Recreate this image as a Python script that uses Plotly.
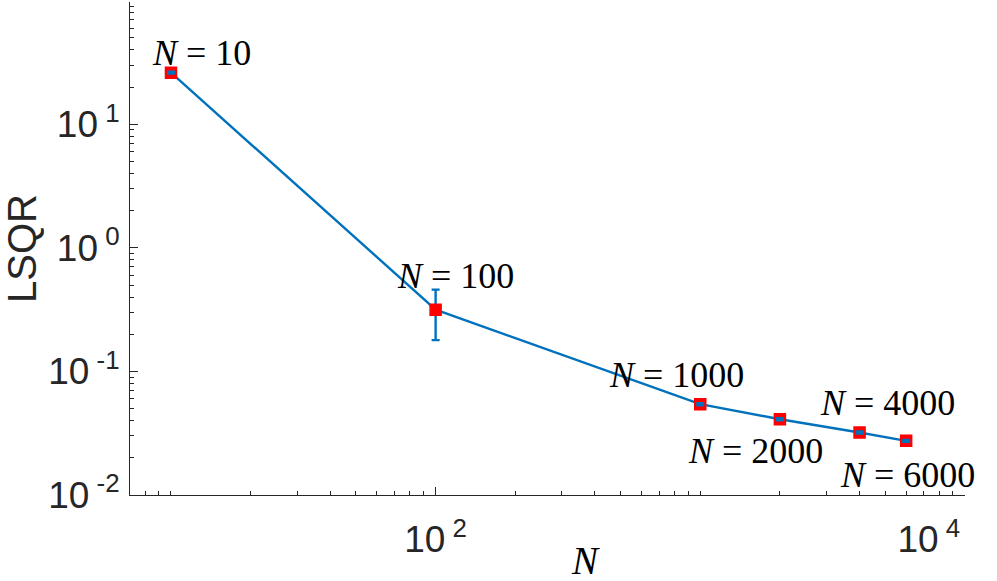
"""LSQR error against sample count N, log-log, MATLAB-style figure."""

import numpy as np
import plotly.graph_objects as go

COLORS = {
    "line": "#0072BD",
    "marker": "#FF0000",
    "axis": "#262626",
    "text": "#000000",
}

# data
n_values = [10, 100, 1000, 2000, 4000, 6000]
lsqr = [26.2, 0.316, 0.0543, 0.0410, 0.0320, 0.0274]
err_plus = [0.5, 0.143, 0.0011, 0.0008, 0.0006, 0.0005]
err_minus = [0.5, 0.137, 0.0011, 0.0008, 0.0006, 0.0005]
point_labels = ["N=10", "N=100", "N=1000", "N=2000", "N=4000", "N=6000"]

y_tickvals = [0.01, 0.1, 1, 10]
y_ticktext = ["10<sup>&nbsp;-2</sup>", "10<sup>&nbsp;-1</sup>", "10<sup>&nbsp;0</sup>", "10<sup>&nbsp;1</sup>"]
x_tickvals = [100, 10000]
# MATLAB pulls the last label inside the figure; pad it so it sits left of its tick
x_ticktext = ["10<sup>&nbsp;2</sup>", "10<sup>&nbsp;4</sup>" + "&nbsp;" * 7]

# label offsets in pixels from each point (left edge, vertical middle)
label_shift = [(-21, 20), (-41, 34), (-93, 29), (-94, -32), (-42, 30), (-68, -34)]

SANS = "Liberation Sans, Arial, sans-serif"
SERIF = "Liberation Serif, Times New Roman, serif"

fig = go.Figure()

# line, markers and the big error bar (drawn under the markers)
fig.add_trace(
    go.Scatter(
        x=n_values,
        y=lsqr,
        mode="lines+markers",
        line=dict(color=COLORS["line"], width=2.4),
        marker=dict(symbol="square", size=11, color=COLORS["marker"],
                    line=dict(color=COLORS["marker"], width=1.5)),
        error_y=dict(type="data", symmetric=False, array=err_plus, arrayminus=err_minus,
                     color=COLORS["line"], thickness=2.4, width=4),
        hoverinfo="skip",
    )
)

# tiny error bars sit on top of the red squares
small = [i for i, y in enumerate(lsqr) if (err_plus[i] + err_minus[i]) / y < 0.1]
fig.add_trace(
    go.Scatter(
        x=[n_values[i] for i in small],
        y=[lsqr[i] for i in small],
        mode="markers",
        marker=dict(size=1, opacity=0),
        error_y=dict(type="data", symmetric=False,
                     array=[err_plus[i] for i in small],
                     arrayminus=[err_minus[i] for i in small],
                     color=COLORS["line"], thickness=2.4, width=4),
        hoverinfo="skip",
    )
)

for n, y, lab, (dx, dy) in zip(n_values, lsqr, point_labels, label_shift):
    num = lab.split("=")[1]
    fig.add_annotation(
        x=np.log10(n), y=np.log10(y), xref="x", yref="y",
        text=f"<i>N</i> = {num}", showarrow=False,
        xanchor="left", yanchor="middle", xshift=dx, yshift=dy,
        font=dict(family=SERIF, size=36, color=COLORS["text"]),
    )

fig.add_annotation(
    x=0.545, y=-0.132, xref="paper", yref="paper",
    text="<i>N</i>", showarrow=False, xanchor="center", yanchor="middle",
    font=dict(family=SERIF, size=39, color=COLORS["text"]),
)

axis_common = dict(
    showline=True, linecolor=COLORS["axis"], linewidth=1,
    ticks="inside", ticklen=8, tickcolor=COLORS["axis"], tickwidth=1,
    showgrid=False, zeroline=False, mirror=False, automargin=False,
    ticklabeloverflow="allow",
    tickfont=dict(family=SANS, size=37, color=COLORS["axis"]),
    minor=dict(ticks="inside", ticklen=4, tickcolor=COLORS["axis"], dtick="D1", showgrid=False),
)

fig.update_xaxes(
    type="log", range=[np.log10(7), 4.0005],
    tickmode="array", tickvals=x_tickvals, ticktext=x_ticktext,
    ticklabelstandoff=12,
    **axis_common,
)
fig.update_yaxes(
    type="log", range=[-2.0005, 1.99],
    tickmode="array", tickvals=y_tickvals, ticktext=y_ticktext,
    ticklabelstandoff=2,
    title=dict(text="LSQR", font=dict(family=SANS, size=40, color=COLORS["axis"]), standoff=39),
    **axis_common,
)

fig.update_layout(
    width=997, height=581,
    margin=dict(l=130, r=32, t=2, b=86),
    paper_bgcolor="white", plot_bgcolor="white",
    showlegend=False,
)

# drop the browser's default body margin so the figure fills the window
fig.write_html(
    "out.html",
    config={"displayModeBar": False},
    post_script="document.body.style.margin = '0';",
)
